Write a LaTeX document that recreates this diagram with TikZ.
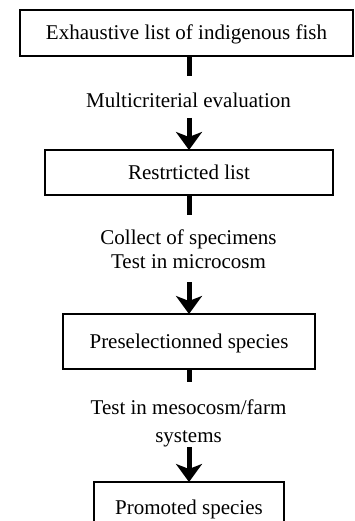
\documentclass[tikz,border=0pt]{standalone}
\usepackage{fontspec}
\setmainfont{Liberation Serif}
\usetikzlibrary{arrows.meta}
\begin{document}
\begin{tikzpicture}[x=1pt,y=-1pt,
  box/.style={draw, line width=1.8pt, inner sep=0pt, outer sep=0pt,
    font=\fontsize{21}{24}\selectfont, text height=14pt, text depth=0pt, align=center},
  lbl/.style={inner sep=0pt, anchor=base, font=\fontsize{21}{24}\selectfont},
  stub/.style={line width=5pt},
  arr/.style={line width=5pt, -{Stealth[length=18pt,width=26pt,inset=5pt]}}]
\clip (0,0) rectangle (355,521);
\fill[white] (0,0) rectangle (355,521);
\node[box, minimum width=333pt, minimum height=46pt] (b1) at (186.5,33) {Exhaustive list of indigenous fish};
\node[box, minimum width=288pt, minimum height=45pt] (b2) at (189,172.5) {Restrticted list};
\node[box, minimum width=252pt, minimum height=55pt] (b3) at (189,341.5) {Preselectionned species};
\node[box, minimum width=190pt, minimum height=50pt] (b4) at (189,507) {Promoted species};
\node[lbl] (l1) at (188.5,108) {Multicriterial evaluation};
\node[lbl] (l2a) at (188.5,244) {Collect of specimens};
\node[lbl] (l2b) at (188.5,268) {Test in microcosm};
\node[lbl] (l3a) at (188.5,414) {Test in mesocosm/farm};
\node[lbl] (l3b) at (188.5,442) {systems};
\coordinate (s1) at (189,76);  \coordinate (a1) at (189,118);
\coordinate (s2) at (189,215); \coordinate (a2) at (189,282);
\coordinate (s3) at (189,382); \coordinate (a3) at (189,447);
\draw[stub] (b1.south -| s1) -- (s1);
\draw[arr] (a1) -- (b2.north);
\draw[stub] (b2.south -| s2) -- (s2);
\draw[arr] (a2) -- (b3.north);
\draw[stub] (b3.south -| s3) -- (s3);
\draw[arr] (a3) -- (b4.north);
\end{tikzpicture}
\end{document}
